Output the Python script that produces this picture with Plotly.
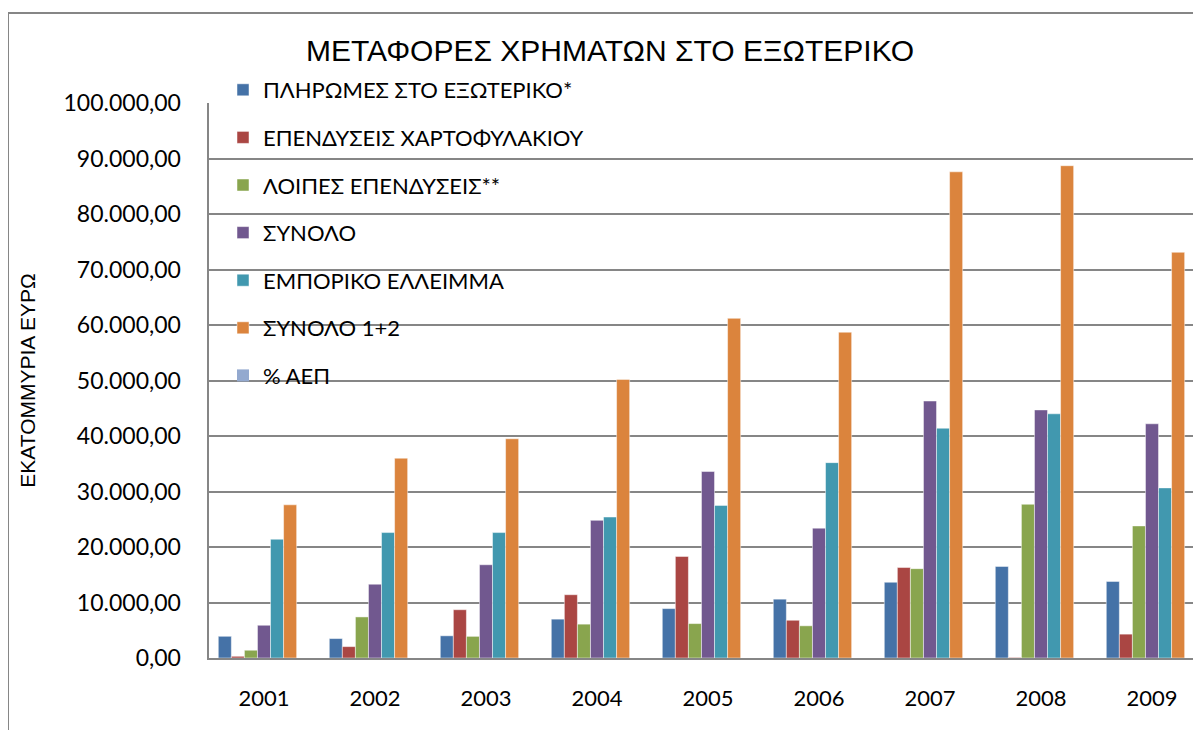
import plotly.graph_objects as go

years = ["2001", "2002", "2003", "2004", "2005", "2006", "2007", "2008", "2009"]

series_names = [
    "ΠΛΗΡΩΜΕΣ ΣΤΟ ΕΞΩΤΕΡΙΚΟ*",
    "ΕΠΕΝΔΥΣΕΙΣ ΧΑΡΤΟΦΥΛΑΚΙΟΥ",
    "ΛΟΙΠΕΣ ΕΠΕΝΔΥΣΕΙΣ**",
    "ΣΥΝΟΛΟ",
    "ΕΜΠΟΡΙΚΟ ΕΛΛΕΙΜΜΑ",
    "ΣΥΝΟΛΟ 1+2",
    "% ΑΕΠ",
]

payments = [3900, 3500, 4000, 7000, 8900, 10600, 13650, 16500, 13800]
portfolio = [300, 2050, 8700, 11400, 18300, 6800, 16300, 100, 4300]
other_inv = [1400, 7400, 3900, 6100, 6200, 5800, 16100, 27700, 23800]
total = [5900, 13300, 16800, 24800, 33600, 23400, 46300, 44700, 42200]
trade_deficit = [21400, 22600, 22600, 25400, 27500, 35200, 41400, 44000, 30650]
total_1_2 = [27600, 36000, 39500, 50200, 61200, 58700, 87600, 88700, 73100]
pct_gdp = [0, 0, 0, 0, 0, 0, 0, 0, 0]

series_values = [payments, portfolio, other_inv, total, trade_deficit, total_1_2, pct_gdp]
colors = ["#4572A7", "#AA4643", "#89A54E", "#71588F", "#4198AF", "#DB843D", "#93A9CF"]

fig = go.Figure()
for i, (name, vals, col) in enumerate(zip(series_names, series_values, colors)):
    fig.add_trace(go.Bar(
        x=years, y=vals, name=name,
        marker=dict(color=col, line=dict(color="rgba(255,255,255,0.6)", width=0.8 if i < 6 else 0)),
        legendgroup=f"g{i}",
    ))

# The page body adds an 8px margin, so the figure is sized to fit the window without scrollbars
W, H = 1185, 722
ML, MR, MT, MB = 0, 0, 5, 0
PW, PH = W - ML - MR, H - MT - MB
# plot area in figure pixels
PL, PR, PT, PB = 200.5, 1185, 95, 650

def px_x(px):
    return (px - ML) / PW

def px_y(py):
    return 1 - (py - MT) / PH

cat_px = 111.0
x_span = (PR - PL) / cat_px

fig.update_layout(
    width=W, height=H,
    margin=dict(l=ML, r=MR, t=MT, b=MB, pad=0, autoexpand=False),
    paper_bgcolor="white", plot_bgcolor="white",
    barmode="group", bargap=1.5 / 8.5, bargroupgap=0,
    separators=",.",
    font=dict(family="Lato, Liberation Sans, sans-serif", color="#000000"),
    title=dict(
        text="ΜΕΤΑΦΟΡΕΣ ΧΡΗΜΑΤΩΝ ΣΤΟ ΕΞΩΤΕΡΙΚΟ",
        font=dict(family="Liberation Sans, Arial, sans-serif", size=30, color="#000000"),
        x=602 / W, xref="container", xanchor="center",
        y=1 - 42 / H, yref="container", yanchor="middle",
    ),
    legend=dict(
        x=px_x(215), y=px_y(61), xanchor="left", yanchor="top",
        bgcolor="rgba(0,0,0,0)", borderwidth=0,
        font=dict(family="Lato, sans-serif", size=22, color="#000000"),
        tracegroupgap=16, itemwidth=30, traceorder="grouped",
    ),
    xaxis=dict(
        domain=[px_x(PL), px_x(PR)],
        range=[-0.5, -0.5 + x_span],
        showgrid=False, showline=True, linecolor="#868686", linewidth=2,
        ticks="", tickfont=dict(family="Lato, sans-serif", size=22, color="#000000"),
        ticklabelstandoff=20,
    ),
    yaxis=dict(
        domain=[px_y(PB), px_y(PT)],
        range=[0, 100000], dtick=10000, tickformat=",.2f",
        showgrid=True, gridcolor="#868686", gridwidth=2,
        showline=True, linecolor="#868686", linewidth=2,
        ticks="", zeroline=False,
        tickfont=dict(family="Lato, sans-serif", size=23, color="#000000"),
        ticklabelstandoff=21,
        title=dict(text="ΕΚΑΤΟΜΜΥΡΙΑ ΕΥΡΩ",
                   font=dict(family="Liberation Sans, Arial, sans-serif", size=21, color="#000000"),
                   standoff=22),
    ),
    shapes=[dict(
        type="rect", xref="paper", yref="paper",
        x0=0, x1=px_x(1215), y0=px_y(750), y1=1,
        line=dict(color="#868686", width=2), fillcolor="rgba(0,0,0,0)", layer="below",
    )],
)

fig.write_html("out.html")
